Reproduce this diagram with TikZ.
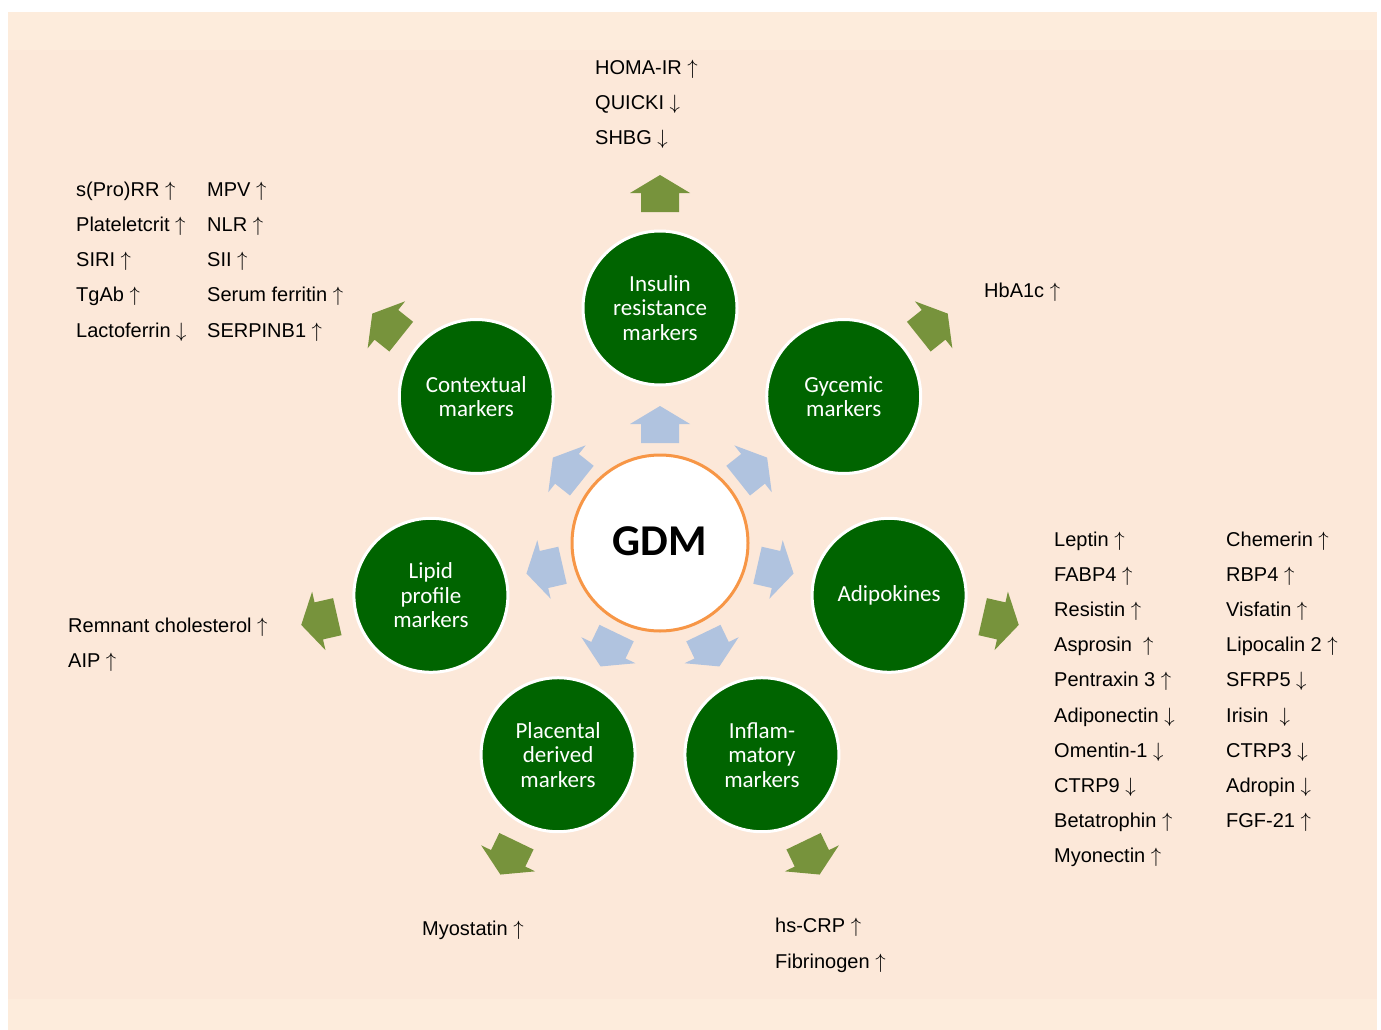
\documentclass[tikz,border=0pt]{standalone}
\usepackage{fontspec}
\setmainfont{Liberation Sans}
\newfontfamily\calfont{Carlito}
\usetikzlibrary{calc}
\definecolor{bgA}{HTML}{FDECDC}
\definecolor{bgB}{HTML}{FCE8D9}
\definecolor{dgreen}{HTML}{006400}
\definecolor{arrgreen}{HTML}{77933C}
\definecolor{arrblue}{HTML}{B0C3DF}
\definecolor{gdmorange}{HTML}{F79646}
\newcommand\uarr{$\uparrow$}
\newcommand\darr{$\downarrow$}
\begin{document}
\begin{tikzpicture}[x=1pt,y=1pt,
 lbl/.style={anchor=base west, inner sep=0pt, font=\fontsize{20}{24}\selectfont},
 mcirc/.style={circle, minimum size=154pt, inner sep=0pt, fill=dgreen, draw=white, line width=3pt, text=white, align=center, font=\calfont\fontsize{23}{24.5}\selectfont},
 blockarrow/.pic={\path[pic actions] (0,-19) -- (19,-19) -- (19,-30) -- (37,0) -- (19,30) -- (19,19) -- (0,19) -- cycle;}
]
\fill[white] (0,0) rectangle (1381,-1030);
\useasboundingbox (0,0) rectangle (1381,-1030);
\fill[bgA] (8,-12) rectangle (1377,-1030);
\fill[bgB] (8,-50) rectangle (1377,-999);

\node[circle, minimum size=176pt, fill=white, draw=gdmorange, line width=3pt, font=\calfont\bfseries\fontsize{44}{50}\selectfont] (gdm) at (660,-543) {\raisebox{3pt}{GDM}};

\node[mcirc] (ins) at ($(gdm)+(90:235)$) {Insulin\\resistance\\markers};
\node[mcirc] (gly) at ($(gdm)+(38.57:235)$) {Gycemic\\markers};
\node[mcirc] (adi) at ($(gdm)+(-12.86:235)$) {Adipokines};
\node[mcirc] (inf) at ($(gdm)+(-64.29:235)$) {Inflam-\\matory\\markers};
\node[mcirc] (pla) at ($(gdm)+(-115.71:235)$) {Placental\\derived\\markers};
\node[mcirc] (lip) at ($(gdm)+(-167.14:235)$) {Lipid\\profile\\markers};
\node[mcirc] (con) at ($(gdm)+(141.43:235)$) {Contextual\\markers};

\foreach \a in {90,38.57,-12.86,-64.29,-115.71,-167.14,141.43} {
  \pic[fill=arrblue, rotate=\a] at ($(gdm)+(\a:100)$) {blockarrow};
  \pic[fill=arrgreen, rotate=\a] at ($(gdm)+(\a:331)$) {blockarrow};
}

% insulin resistance
\foreach \t [count=\i from 0] in {HOMA-IR \uarr,QUICKI \darr,SHBG \darr}
  \node[lbl] (ir\i) at (595,{-75-35*\i}) {\t};
% contextual
\foreach \t [count=\i from 0] in {s(Pro)RR \uarr,Plateletcrit \uarr,SIRI \uarr,TgAb \uarr,Lactoferrin \darr}
  \node[lbl] (cA\i) at (76,{-196-35.25*\i}) {\t};
\foreach \t [count=\i from 0] in {MPV \uarr,NLR \uarr,SII \uarr,Serum ferritin \uarr,SERPINB1 \uarr}
  \node[lbl] (cB\i) at (207,{-196-35.25*\i}) {\t};
% glycemic
\node[lbl] (hba) at (984,-297) {HbA1c \uarr};
% adipokines
\foreach \t [count=\i from 0] in {Leptin \uarr,FABP4 \uarr,Resistin \uarr,Asprosin\ \ \uarr,Pentraxin 3 \uarr,Adiponectin \darr,Omentin-1 \darr,CTRP9 \darr,Betatrophin \uarr,Myonectin \uarr}
  \node[lbl] (aA\i) at (1054,{-546-35.2*\i}) {\t};
\foreach \t [count=\i from 0] in {Chemerin \uarr,RBP4 \uarr,Visfatin \uarr,Lipocalin 2 \uarr,SFRP5 \darr,Irisin\ \ \darr,CTRP3 \darr,Adropin \darr,FGF-21 \uarr}
  \node[lbl] (aB\i) at (1226,{-546-35.2*\i}) {\t};
% lipid
\node[lbl] (rc) at (68,-632) {Remnant cholesterol \uarr};
\node[lbl] (aip) at (68,-667) {AIP \uarr};
% placental
\node[lbl] (myo) at (422,-935) {Myostatin \uarr};
% inflammatory
\node[lbl] (crp) at (775,-932) {hs-CRP \uarr};
\node[lbl] (fib) at (775,-968) {Fibrinogen \uarr};
\end{tikzpicture}
\end{document}
